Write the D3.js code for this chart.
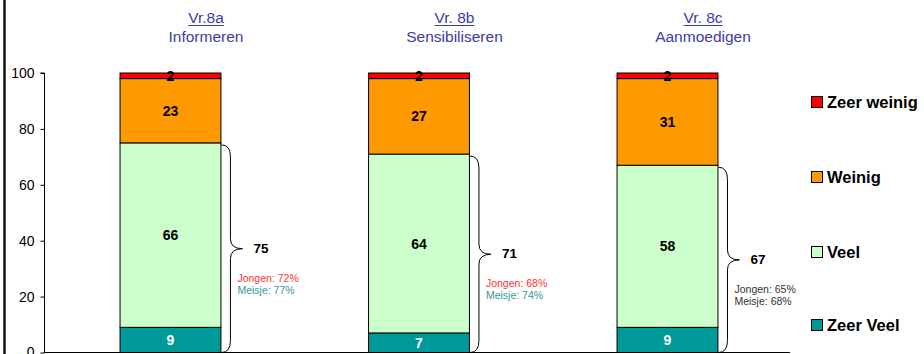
<!DOCTYPE html>
<html>
<head>
<meta charset="utf-8">
<script src="https://cdn.jsdelivr.net/npm/d3@7"></script>
<style>
  body { margin: 0; background: #fff; }
  svg { display: block; font-family: "Liberation Sans", Arial, sans-serif; }
</style>
</head>
<body>
<script>
// data
var groups = ["8a", "8b", "8c"];
var codes = ["Vr.8a", "Vr. 8b", "Vr. 8c"];
var names = ["Informeren", "Sensibiliseren", "Aanmoedigen"];
var categories = ["Zeer Veel", "Veel", "Weinig", "Zeer weinig"];
var zeerVeel = [9, 7, 9];
var veel = [66, 64, 58];
var weinig = [23, 27, 31];
var zeerWeinig = [2, 2, 2];
var totals = [75, 71, 67];
var jongen = [72, 68, 65];
var meisje = [77, 74, 68];
var yTicks = [0, 20, 40, 60, 80, 100];

const WIDTH = 924;
const HEIGHT = 354;
var colors = ["#009999", "#CCFFCC", "#FF9900", "#FF0000"];
var textColors = ["#ffffff", "#000000", "#000000", "#000000"];

var rows = groups.map((g, i) => ({
    group: g,
    "Zeer Veel": zeerVeel[i],
    "Veel": veel[i],
    "Weinig": weinig[i],
    "Zeer weinig": zeerWeinig[i]
}));

var series = d3.stack().keys(categories)(rows);

var xScale = d3.scaleBand()
    .domain(groups)
    .range([44, 793])
    .paddingInner(0.594)
    .paddingOuter(0.304);

var yScale = d3.scaleLinear()
    .domain([0, 100])
    .range([352.5, 73]);

var svg = d3.select("body")
    .append("svg")
    .attr("width", WIDTH)
    .attr("height", HEIGHT);

// frame line on the left
svg.append("line")
    .attr("x1", 4.5).attr("x2", 4.5)
    .attr("y1", 0).attr("y2", HEIGHT)
    .attr("stroke", "#111")
    .attr("stroke-width", 2.5);

// bars
var layer = svg.selectAll("g.layer")
    .data(series)
    .enter()
    .append("g")
    .attr("class", "layer")
    .attr("fill", (d, i) => colors[i]);

layer.selectAll("rect")
    .data(d => d)
    .enter()
    .append("rect")
    .attr("x", d => xScale(d.data.group) + 0.5)
    .attr("y", d => yScale(d[1]))
    .attr("width", xScale.bandwidth())
    .attr("height", d => yScale(d[0]) - yScale(d[1]))
    .attr("stroke", "#000")
    .attr("stroke-width", 1);

// segment labels
series.forEach((s, si) => {
    svg.selectAll(null)
        .data(s)
        .enter()
        .append("text")
        .attr("x", d => xScale(d.data.group) + xScale.bandwidth() / 2 + 0.5)
        .attr("y", d => (yScale(d[0]) + yScale(d[1])) / 2)
        .attr("dy", "0.36em")
        .attr("text-anchor", "middle")
        .attr("font-size", "14px")
        .attr("font-weight", "bold")
        .attr("fill", textColors[si])
        .text(d => d[1] - d[0]);
});

// axes
var yAxis = svg.append("g")
    .attr("transform", "translate(44.5,0)")
    .call(d3.axisLeft(yScale).tickValues(yTicks).tickSize(4).tickPadding(6).tickFormat(d3.format("d")));
yAxis.select(".domain").attr("d", `M0,${yScale(0)}V${yScale(100)}M-4,${yScale(100)}H0`);
yAxis.selectAll("text").attr("font-size", "14px").attr("font-family", "Liberation Sans, Arial, sans-serif").attr("fill", "#000");
yAxis.selectAll("line").attr("stroke", "#000");
yAxis.select(".domain").attr("stroke", "#000");

svg.append("line")
    .attr("x1", 44).attr("x2", 790)
    .attr("y1", yScale(0)).attr("y2", yScale(0))
    .attr("stroke", "#000");

// titles
var titleColor = "#3c3ca8";
groups.forEach((g, i) => {
    var cx = xScale(g) + xScale.bandwidth() / 2 + 36;
    var t1 = svg.append("text")
        .attr("x", cx).attr("y", 23)
        .attr("text-anchor", "middle")
        .attr("font-size", "15.5px")
        .attr("fill", titleColor)
        .text(codes[i]);
    var w = t1.node().getComputedTextLength();
    svg.append("line")
        .attr("x1", cx - w / 2).attr("x2", cx + w / 2)
        .attr("y1", 25.5).attr("y2", 25.5)
        .attr("stroke", titleColor)
        .attr("stroke-width", 1);
    svg.append("text")
        .attr("x", cx).attr("y", 42)
        .attr("text-anchor", "middle")
        .attr("font-size", "15.5px")
        .attr("fill", titleColor)
        .text(names[i]);
});

// braces with totals
var jongenColors = ["#ff3333", "#ff3333", "#333333"];
var meisjeColors = ["#339999", "#339999", "#333333"];
groups.forEach((g, i) => {
    var xr = xScale(g) + xScale.bandwidth() + 1;
    var yTop = yScale(totals[i]) + 2;
    var yBot = yScale(0);
    var mid = (yTop + yBot) / 2;
    var xv = xr + 9, xt = xr + 21;
    var path = `M${xr},${yTop} Q${xv},${yTop} ${xv},${yTop + 12} L${xv},${mid - 10} Q${xv},${mid} ${xt},${mid}` +
        ` Q${xv},${mid} ${xv},${mid + 10} L${xv},${yBot - 12} Q${xv},${yBot} ${xr},${yBot}`;
    svg.append("path")
        .attr("d", path)
        .attr("fill", "none")
        .attr("stroke", "#000")
        .attr("stroke-width", 1);
    svg.append("text")
        .attr("x", xr + 32).attr("y", mid + 4)
        .attr("font-size", "13.5px")
        .attr("font-weight", "bold")
        .text(totals[i]);
    svg.append("text")
        .attr("x", xr + 16).attr("y", mid + 33)
        .attr("font-size", "10.5px")
        .attr("fill", jongenColors[i])
        .text(`Jongen: ${jongen[i]}%`);
    svg.append("text")
        .attr("x", xr + 16).attr("y", mid + 45)
        .attr("font-size", "10.5px")
        .attr("fill", meisjeColors[i])
        .text(`Meisje: ${meisje[i]}%`);
});

// legend
var legendY = [325, 252, 177, 102];
categories.forEach((c, i) => {
    svg.append("rect")
        .attr("x", 811.5).attr("y", legendY[i] - 5.5)
        .attr("width", 11).attr("height", 11)
        .attr("fill", colors[i])
        .attr("stroke", "#000");
    svg.append("text")
        .attr("x", 827).attr("y", legendY[i])
        .attr("dy", "0.36em")
        .attr("font-size", "16.5px")
        .attr("font-weight", "bold")
        .text(c);
});
</script>
</body>
</html>
